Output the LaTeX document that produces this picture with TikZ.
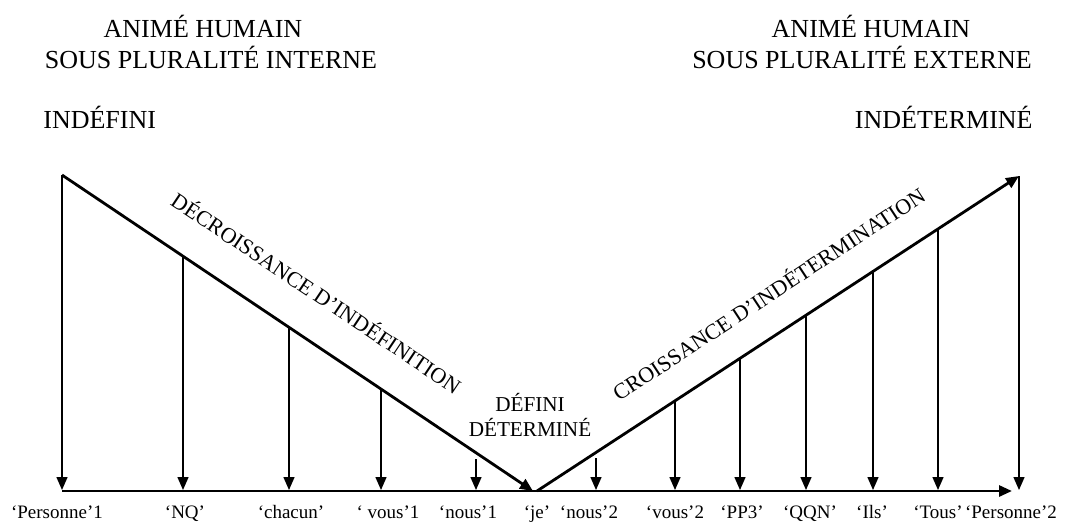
\documentclass[tikz,border=0pt]{standalone}
\usepackage{fontspec}
\setmainfont{Liberation Serif}
\usetikzlibrary{arrows.meta}

\begin{document}
\begin{tikzpicture}[x=0.5pt,y=-0.5pt]
            \useasboundingbox (0,0) rectangle (1067,521);

            % points on the two slopes
            \coordinate (pers1) at (62,175);
            \coordinate (nq) at (183,256);
            \coordinate (chacun) at (289,327);
            \coordinate (vous1) at (381,389);
            \coordinate (nous1) at (476,459);
            \coordinate (je) at (533,491);
            \coordinate (jeR) at (537,491);
            \coordinate (nous2) at (596,458);
            \coordinate (vous2) at (675,401);
            \coordinate (pp3) at (740,358);
            \coordinate (qqn) at (806,315);
            \coordinate (ils) at (873,271);
            \coordinate (tous) at (938,229);
            \coordinate (pers2) at (1019,176);

            % points on the axis
            \coordinate (pers1') at (62,490);
            \coordinate (nq') at (183,490);
            \coordinate (chacun') at (289,490);
            \coordinate (vous1') at (381,490);
            \coordinate (nous1') at (476,490);
            \coordinate (nous2') at (596,490);
            \coordinate (vous2') at (675,490);
            \coordinate (pp3') at (740,490);
            \coordinate (qqn') at (806,490);
            \coordinate (ils') at (873,490);
            \coordinate (tous') at (938,490);
            \coordinate (pers2') at (1019,490);
            \coordinate (axisL) at (62,491);
            \coordinate (axisR) at (1012,491);

            \begin{scope}[every node/.style={inner sep=0pt,font=\fontsize{13}{15}\selectfont}]
                \node (animL) [anchor=base] at (203,37) {ANIMÉ HUMAIN};
                \node (plurL) [anchor=base] at (211,68) {SOUS PLURALITÉ INTERNE};
                \node (indef) [anchor=base west] at (43,128) {INDÉFINI};
                \node (animR) [anchor=base] at (871,37) {ANIMÉ HUMAIN};
                \node (plurR) [anchor=base] at (862,68) {SOUS PLURALITÉ EXTERNE};
                \node (indet) [anchor=base east] at (1033,128) {INDÉTERMINÉ};
            \end{scope}

            \begin{scope}[every node/.style={inner sep=0pt,font=\fontsize{11}{13}\selectfont}]
                \node (decr) [rotate=-33.8] at (317,292) {DÉCROISSANCE D’INDÉFINITION};
                \node (croi) [rotate=33.3] at (768,293) {CROISSANCE D’INDÉTERMINATION};
                \node (defini) [anchor=base,font=\fontsize{10.6}{12}\selectfont] at (530,411) {DÉFINI};
                \node (determ) [anchor=base,font=\fontsize{10.6}{12}\selectfont] at (530,436) {DÉTERMINÉ};
            \end{scope}

            \begin{scope}[every node/.style={inner sep=0pt,anchor=base,font=\fontsize{9.5}{11}\selectfont}]
                \node (lpers1) at (57,518) {‘Personne’1};
                \node (lnq) at (185,518) {‘NQ’};
                \node (lchacun) at (291,518) {‘chacun’};
                \node (lvous1) at (388,518) {‘ vous’1};
                \node (lnous1) at (468,518) {‘nous’1};
                \node (lje) at (537,518) {‘je’};
                \node (lnous2) at (589,518) {‘nous’2};
                \node (lvous2) at (675,518) {‘vous’2};
                \node (lpp3) at (742,518) {‘PP3’};
                \node (lqqn) at (810,518) {‘QQN’};
                \node (lils) at (872,518) {‘Ils’};
                \node (ltous) at (938,518) {‘Tous’};
                \node (lpers2) at (1011,518) {‘Personne’2};
            \end{scope}

            \begin{scope}[>={Triangle[black,length=6.5pt,width=5.5pt]},
                          every edge/.style={draw=black,line width=1.4pt}]
                \path [->] (pers1) edge (je);
                \path [->] (jeR) edge (pers2);
                \path [->] (axisL) edge (axisR);
            \end{scope}

            \begin{scope}[>={Triangle[black,length=6.5pt,width=5.5pt]},
                          every edge/.style={draw=black,line width=0.7pt}]
                \path [->] (pers1) edge (pers1');
                \path [->] (nq) edge (nq');
                \path [->] (chacun) edge (chacun');
                \path [->] (vous1) edge (vous1');
                \path [->] (nous1) edge (nous1');
                \path [->] (nous2) edge (nous2');
                \path [->] (vous2) edge (vous2');
                \path [->] (pp3) edge (pp3');
                \path [->] (qqn) edge (qqn');
                \path [->] (ils) edge (ils');
                \path [->] (tous) edge (tous');
                \path [->] (pers2) edge (pers2');
            \end{scope}
        \end{tikzpicture}
\end{document}
